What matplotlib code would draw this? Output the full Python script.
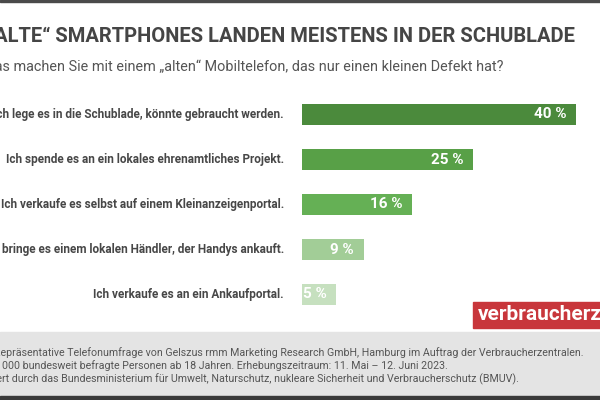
"""Horizontal bar chart: what people do with an old, slightly broken phone."""

import matplotlib
matplotlib.use('Agg')
import matplotlib.pyplot as plt
from matplotlib.patches import Rectangle

W, H = 600, 400

# Data
answers = [
    "Ich lege es in die Schublade, könnte gebraucht werden.",
    "Ich spende es an ein lokales ehrenamtliches Projekt.",
    "Ich verkaufe es selbst auf einem Kleinanzeigenportal.",
    "Ich bringe es einem lokalen Händler, der Handys ankauft.",
    "Ich verkaufe es an ein Ankaufportal.",
]
shares = [40, 25, 16, 9, 5]
value_labels = ["40 %", "25 %", "16 %", "9 %", "5 %"]

title = "„ALTE“ SMARTPHONES LANDEN MEISTENS IN DER SCHUBLADE"
subtitle = "Was machen Sie mit einem „alten“ Mobiltelefon, das nur einen kleinen Defekt hat?"
footer = [
    "Repräsentative Telefonumfrage von Gelszus rmm Marketing Research GmbH, Hamburg im Auftrag der Verbraucherzentralen.",
    "1000 bundesweit befragte Personen ab 18 Jahren. Erhebungszeitraum: 11. Mai – 12. Juni 2023.",
    "Gefördert durch das Bundesministerium für Umwelt, Naturschutz, nukleare Sicherheit und Verbraucherschutz (BMUV).",
]
logo = "verbraucherzentrale"

# Colors
BAR_COLORS = ["#4b8a3c", "#58a047", "#65b055", "#a2cd97", "#c6e0bf"]
TEXT = "#474747"
GRAY_BAND = "#e4e4e4"
RED = "#c8363b"

FONT = ["Roboto", "DejaVu Sans"]


def fx(x):
    return x / W


def fy(y):
    return 1 - y / H


fig = plt.figure(figsize=(W / 100, H / 100), dpi=100)
fig.patch.set_facecolor("white")

# Frame elements
fig.patches.append(Rectangle((0, fy(2)), 1, 2 / H, transform=fig.transFigure,
                             color="#4a4a4a", zorder=0))
fig.patches.append(Rectangle((0, fy(396)), 1, 64 / H, transform=fig.transFigure,
                             color=GRAY_BAND, zorder=0))
fig.patches.append(Rectangle((0, 0), 1, 4 / H, transform=fig.transFigure,
                             color="#3a3a3a", zorder=0))
fig.patches.append(Rectangle((fx(473), fy(328)), (W - 473) / W, 26 / H,
                             transform=fig.transFigure, color=RED, zorder=0))

# Bars
ax = fig.add_axes([fx(302), fy(317), (576 - 302) / W, 225 / H])
ypos = list(range(len(shares)))
ax.barh(ypos, shares, height=0.47, color=BAR_COLORS, edgecolor="none")
ax.set_xlim(0, 40)
ax.set_ylim(len(shares) - 0.5, -0.5)
ax.axis("off")

for y, v, lab, ans in zip(ypos, shares, value_labels, answers):
    ax.text(v - 1.4, y, lab, ha="right", va="center", color="white",
            fontsize=11, fontweight="bold", family=FONT)
    ax.annotate(ans, xy=(0, y), xytext=(-13, 0), textcoords="offset points",
                ha="right", va="center", color=TEXT, fontsize=8.5,
                fontweight="bold", family=FONT)

# Titles
fig.text(fx(575), fy(37), title, ha="right", va="center", color="#454545",
         fontsize=14.5, fontweight="bold", family=FONT)
fig.text(fx(504), fy(67), subtitle, ha="right", va="center", color="#555555",
         fontsize=10.4, family=FONT)

# Footer
for yy, xr, line in zip([353, 366, 379], [584, 448, 519], footer):
    fig.text(fx(xr), fy(yy), line, ha="right", va="center", color="#555555",
             fontsize=7.7, family=FONT)

# Logo
fig.text(fx(478), fy(315), logo, ha="left", va="center", color="white",
         fontsize=15, fontweight="bold", family=FONT)

fig.savefig("out.png", dpi=100, facecolor="white")
